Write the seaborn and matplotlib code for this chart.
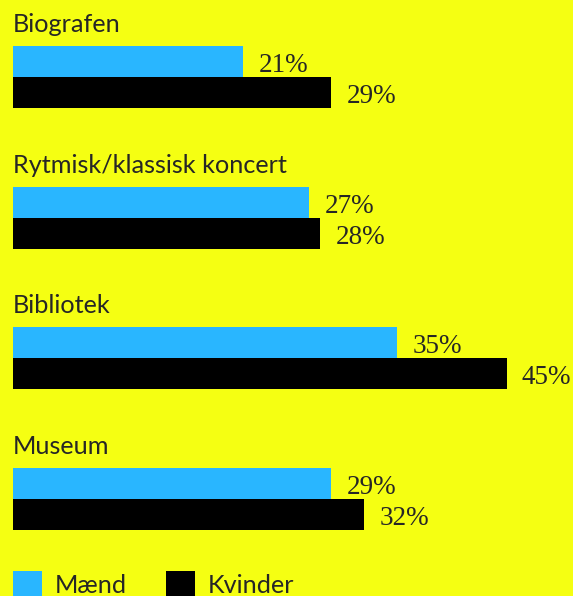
"""Horizontal grouped bars: share of men and women by cultural activity."""

import matplotlib.pyplot as plt
import pandas as pd
import seaborn as sns

categories = ["Biografen", "Rytmisk/klassisk koncert", "Bibliotek", "Museum"]
maend = [21, 27, 35, 29]
kvinder = [29, 28, 45, 32]
series_names = ["Mænd", "Kvinder"]

BG = "#F5FF12"
BLUE = "#29B6FF"
BLACK = "#000000"

df = pd.DataFrame({
    "kategori": categories * 2,
    "andel": maend + kvinder,
    "koen": [series_names[0]] * len(categories) + [series_names[1]] * len(categories),
})

sns.set_style("white")
plt.rcParams["font.family"] = ["Lato", "DejaVu Sans"]

fig = plt.figure(figsize=(5.73, 5.96), dpi=100, facecolor=BG)
ax = fig.add_axes([13 / 573, 0, 560 / 573, 1])
ax.set_facecolor(BG)

sns.barplot(
    data=df, x="andel", y="kategori", hue="koen", orient="h",
    palette=[BLUE, BLACK], width=0.44, gap=0, saturation=1,
    linewidth=0, ax=ax,
)

ax.set_xlim(0, 560 / 10.97)
ax.set_ylim(3.69, -0.547)

for container in ax.containers:
    anns = ax.bar_label(container, fmt="%d%%", padding=11, fontsize=19.5,
                        family=["Liberation Serif", "DejaVu Serif"])
    for ann in anns:
        ann.xyann = (11, -3)

for i, name in enumerate(categories):
    ax.text(0, i - 0.32, name, fontsize=18.2, va="baseline", ha="left")

handles, labels = ax.get_legend_handles_labels()
ax.legend(
    handles, labels, loc="upper left", bbox_to_anchor=(0, 25 / 596),
    ncol=2, frameon=False, fontsize=18.2, borderpad=0, borderaxespad=0,
    handlelength=1.15, handleheight=1.25, handletextpad=0.5,
    columnspacing=1.55,
)

ax.set_xlabel("")
ax.set_ylabel("")
ax.set_xticks([])
ax.set_yticks([])
sns.despine(ax=ax, left=True, bottom=True)

fig.savefig("out.png", dpi=100, facecolor=BG)
